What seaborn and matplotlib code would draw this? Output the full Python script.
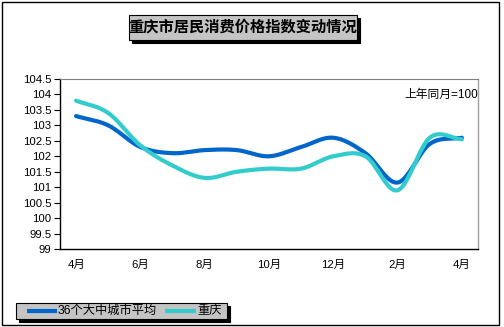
import numpy as np
import pandas as pd
import matplotlib
matplotlib.use("Agg")
import matplotlib.pyplot as plt
import seaborn as sns
from matplotlib.patches import Rectangle

# Monthly CPI (same month of previous year = 100)
months = ["4月", "5月", "6月", "7月", "8月", "9月", "10月", "11月", "12月", "1月", "2月", "3月", "4月"]
avg36 = [103.3, 103.0, 102.3, 102.1, 102.2, 102.2, 102.0, 102.3, 102.6, 102.1, 101.15, 102.4, 102.6]
chongqing = [103.8, 103.4, 102.35, 101.7, 101.3, 101.5, 101.6, 101.6, 102.0, 102.0, 100.9, 102.6, 102.55]
series_names = ["36个大中城市平均", "重庆"]
series_colors = ["#0066CC", "#33CCCC"]
yticks = [99, 99.5, 100, 100.5, 101, 101.5, 102, 102.5, 103, 103.5, 104, 104.5]
title = "重庆市居民消费价格指数变动情况"
note = "上年同月=100"

sns.set_theme(style="white")
plt.rcParams["font.family"] = ["Liberation Sans", "Noto Sans CJK SC", "DejaVu Sans"]


def smooth(values, steps=24):
    """Catmull-Rom curve through the points (like a smoothed line chart)."""
    y = np.asarray(values, dtype=float)
    x = np.arange(len(y), dtype=float)
    px = np.concatenate([[2 * x[0] - x[1]], x, [2 * x[-1] - x[-2]]])
    py = np.concatenate([[2 * y[0] - y[1]], y, [2 * y[-1] - y[-2]]])
    xs, ys = [], []
    t = np.linspace(0, 1, steps, endpoint=False)
    for i in range(1, len(px) - 2):
        p0, p1, p2, p3 = py[i - 1], py[i], py[i + 1], py[i + 2]
        q0, q1, q2, q3 = px[i - 1], px[i], px[i + 1], px[i + 2]
        for arr, a0, a1, a2, a3 in ((xs, q0, q1, q2, q3), (ys, p0, p1, p2, p3)):
            arr.extend(0.5 * (2 * a1 + (-a0 + a2) * t
                              + (2 * a0 - 5 * a1 + 4 * a2 - a3) * t ** 2
                              + (-a0 + 3 * a1 - 3 * a2 + a3) * t ** 3))
    xs.append(x[-1])
    ys.append(y[-1])
    return np.array(xs), np.array(ys)


frames = []
for name, vals in zip(series_names, [avg36, chongqing]):
    sx, sy = smooth(vals)
    frames.append(pd.DataFrame({"x": sx, "y": sy, "series": name, "order": np.arange(len(sx))}))
df = pd.concat(frames, ignore_index=True)

W, H = 504, 327
fig = plt.figure(figsize=(W / 100, H / 100), dpi=100)
fig.patch.set_facecolor("white")


def px(x0, y0, w, h):
    return (x0 / W, 1 - (y0 + h) / H, w / W, h / H)


ax = fig.add_axes(px(60, 79, 418, 170))
sns.lineplot(data=df, x="x", y="y", hue="series", hue_order=series_names,
             palette=series_colors, sort=False, estimator=None, units="series",
             linewidth=3.0, ax=ax, legend=False)

ax.set_xlim(-0.5, len(months) - 0.5)
ax.set_ylim(99, 104.5)
ax.set_yticks(yticks)
ax.set_yticklabels([f"{v:g}" for v in yticks], fontsize=8.2, color="black")
ax.set_xticks(range(0, len(months), 2))
ax.set_xticklabels(months[::2], fontsize=8.2, color="black")
ax.set_xticks(np.arange(0.5, len(months) - 1, 1.0), minor=True)
ax.tick_params(axis="x", which="major", length=0, pad=8)
ax.tick_params(axis="x", which="minor", direction="in", length=3, width=0.8, color="black")
ax.tick_params(axis="y", which="major", direction="out", length=4, width=0.8, color="black", pad=2, left=True)
ax.set_xlabel("")
ax.set_ylabel("")
ax.grid(False)
for side in ["left", "bottom"]:
    ax.spines[side].set_color("black")
    ax.spines[side].set_linewidth(1.0)
ax.spines["top"].set_color("#808080")
ax.spines["top"].set_linestyle((0, (1, 1)))
ax.spines["top"].set_linewidth(0.8)
ax.spines["right"].set_color("#A0A0A0")
ax.spines["right"].set_linewidth(1.0)

ax.text(len(months) - 0.5, 104.0, note, ha="right", va="center", fontsize=8.5, color="black")

# Outer frame
fig.add_artist(Rectangle(px(2, 2, 497, 323)[:2], 497 / W, 323 / H, transform=fig.transFigure,
                         fill=False, edgecolor="black", linewidth=1.0))

# Title box with drop shadow
tx, ty, tw, th = 129, 15, 228, 25
fig.add_artist(Rectangle(px(tx + 3, ty + 3, tw, th)[:2], tw / W, th / H, transform=fig.transFigure,
                         facecolor="black", edgecolor="black", linewidth=0.8))
fig.add_artist(Rectangle(px(tx, ty, tw, th)[:2], tw / W, th / H, transform=fig.transFigure,
                         facecolor="#C4C4C4", edgecolor="black", linewidth=0.8))
fig.text((tx + tw / 2) / W, 1 - (ty + th / 2) / H, title, ha="center", va="center",
         fontsize=11, fontweight="bold", color="black")

# Legend box with drop shadow
lx, ly, lw, lh = 16, 303, 211, 16
fig.add_artist(Rectangle(px(lx + 3, ly + 3, lw, lh)[:2], lw / W, lh / H, transform=fig.transFigure,
                         facecolor="black", edgecolor="black", linewidth=0.8))
fig.add_artist(Rectangle(px(lx, ly, lw, lh)[:2], lw / W, lh / H, transform=fig.transFigure,
                         facecolor="#C4C4C4", edgecolor="black", linewidth=0.8))
ymid = 1 - (ly + lh / 2) / H
for (x0, x1, tx0), name, col in zip([(27, 57, 58), (165, 196, 197)], series_names, series_colors):
    fig.add_artist(plt.Line2D([x0 / W, x1 / W], [ymid, ymid], transform=fig.transFigure,
                              color=col, linewidth=3.0, solid_capstyle="butt"))
    fig.text(tx0 / W, ymid, name, ha="left", va="center", fontsize=8.8, color="black")

fig.savefig("out.png", dpi=100)
